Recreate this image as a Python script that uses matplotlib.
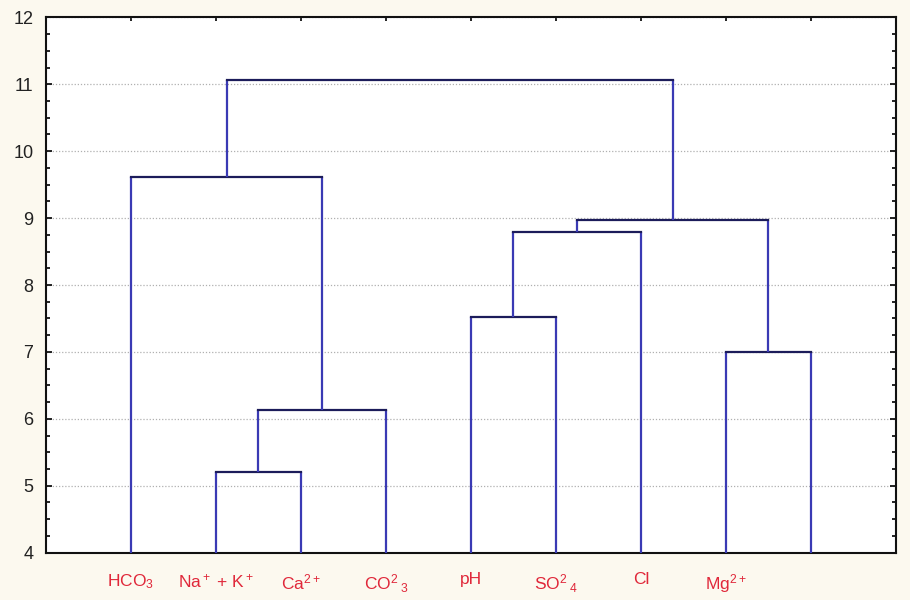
import matplotlib
matplotlib.use("Agg")
import matplotlib.pyplot as plt
from matplotlib.ticker import MultipleLocator

plt.rcParams['font.family'] = ['Liberation Sans', 'DejaVu Sans']
plt.rcParams['mathtext.fontset'] = 'custom'
plt.rcParams['mathtext.rm'] = 'Liberation Sans'
plt.rcParams['mathtext.it'] = 'Liberation Sans'
plt.rcParams['mathtext.bf'] = 'Liberation Sans:bold'

# Leaves (left to right); the last leaf carries no label in the original
leaf_labels = [r"HCO$_3$", r"Na$^+$ + K$^+$", r"Ca$^{2+}$", r"CO$^{2}\,{}_{3}$",
               "pH", r"SO$^{2}\,{}_{4}$", "Cl", r"Mg$^{2+}$", ""]

# Merges: (left child id, right child id, linkage distance); new cluster ids start at 9
merge_left = [1, 9, 0, 4, 12, 7, 13, 11]
merge_right = [2, 3, 10, 5, 6, 8, 14, 15]
merge_height = [5.21, 6.13, 9.62, 7.52, 8.79, 7.00, 8.97, 11.06]

y_ticks = [4, 5, 6, 7, 8, 9, 10, 11, 12]

fig = plt.figure(figsize=(9.1, 6), dpi=100, facecolor='#fcf9ef')
ax = fig.add_axes([0.0505, 0.079, 0.934, 0.892])
ax.set_facecolor('white')

n = len(leaf_labels)
xpos = {i: i + 1 for i in range(n)}
ypos = {i: 0.0 for i in range(n)}

vcol = '#3a3ab4'
hcol = '#1c1c5a'
for k, (a, b, h) in enumerate(zip(merge_left, merge_right, merge_height)):
    xa, xb = xpos[a], xpos[b]
    ax.plot([xa, xa], [ypos[a], h], color=vcol, lw=1.6, solid_capstyle='butt', zorder=3)
    ax.plot([xb, xb], [ypos[b], h], color=vcol, lw=1.6, solid_capstyle='butt', zorder=3)
    ax.plot([xa, xb], [h, h], color=hcol, lw=1.6, solid_capstyle='projecting', zorder=3)
    new = n + k
    xpos[new] = (xa + xb) / 2
    ypos[new] = h

ax.set_xlim(0, n + 1)
ax.set_ylim(4, 12)
ax.set_yticks(y_ticks)
ax.set_yticklabels([str(t) for t in y_ticks], fontsize=13, color='#222222')
ax.yaxis.set_minor_locator(MultipleLocator(0.25))
ax.tick_params(axis='y', which='major', direction='in', length=4, width=1.2,
               left=True, right=True, pad=9)
ax.tick_params(axis='y', which='minor', direction='in', length=3, width=1.2,
               left=True, right=True)

ax.set_xticks(range(1, n + 1))
ax.set_xticklabels(leaf_labels, fontsize=12.5, color='#e0283a')
ax.tick_params(axis='x', direction='in', length=3, width=1.2, top=True, bottom=True, pad=14)

ax.grid(axis='y', which='major', linestyle=(0, (1, 1.5)), color='#b0b0b0', lw=0.9, zorder=1)
for s in ax.spines.values():
    s.set_linewidth(1.5)
    s.set_color('#111111')

fig.savefig("out.png", dpi=100, facecolor=fig.get_facecolor())
